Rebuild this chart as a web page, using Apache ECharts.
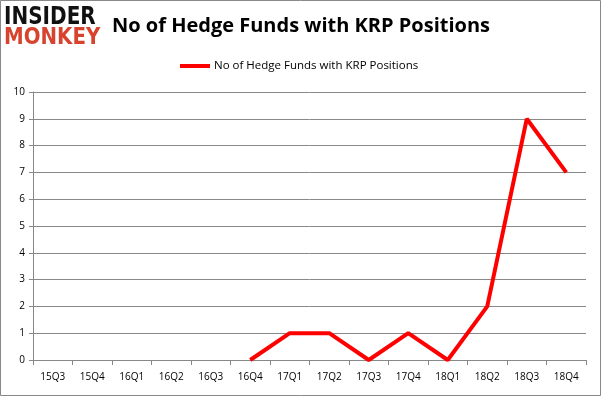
<!DOCTYPE html>
<html><head><meta charset="utf-8">
<script src="https://cdn.jsdelivr.net/npm/echarts@6/dist/echarts.min.js"></script>
<style>html,body{margin:0;padding:0;background:#fff}#c{width:601px;height:396px}</style>
</head><body><div id="c"></div>
<script>
const categories = ['15Q3','15Q4','16Q1','16Q2','16Q3','16Q4','17Q1','17Q2','17Q3','17Q4','18Q1','18Q2','18Q3','18Q4'];
const seriesName = 'No of Hedge Funds with KRP Positions';
const values = [null,null,null,null,null,0,1,1,0,1,0,2,9,7];
const yTicks = {min:0, max:10, interval:1};

const chart = echarts.init(document.getElementById('c'), null, {renderer:'canvas'});
chart.setOption({
  backgroundColor:'#fff',
  animation:false,
  title:{text:'No of Hedge Funds with KRP Positions', left:107, top:11,
    textStyle:{fontFamily:'Open Sans', fontWeight:'bold', fontSize:20, color:'#000'}},
  legend:{data:[seriesName], top:55, left:175, itemWidth:30, itemHeight:4, itemGap:4,
    icon:'rect',
    textStyle:{fontFamily:'Open Sans', fontSize:11.5, color:'#000', padding:[0,0,0,-1]}},
  graphic:[
    {type:'rect', shape:{x:0.5,y:0.5,width:600,height:395}, style:{fill:'none', stroke:'#888', lineWidth:1}, silent:true},
    {type:'text', x:4, y:5, scaleX:0.8, style:{text:'INSIDER', fontFamily:'DejaVu Sans', fontWeight:'bold', fontSize:25, fill:'#111'}},
    {type:'text', x:4, y:27, scaleX:0.86, style:{text:'MONKEY', fontFamily:'DejaVu Sans', fontWeight:'bold', fontSize:23, fill:'#d8432e'}}
  ],
  grid:{left:33, right:15, top:92, bottom:36},
  xAxis:{type:'category', data:categories, boundaryGap:true,
    axisLine:{lineStyle:{color:'#888'}},
    axisTick:{show:true, alignWithLabel:false, length:5, lineStyle:{color:'#888'}},
    axisLabel:{fontFamily:'Open Sans', fontSize:10, color:'#000', margin:12}},
  yAxis:{type:'value', min:yTicks.min, max:yTicks.max, interval:yTicks.interval,
    axisLine:{show:true, lineStyle:{color:'#888'}},
    axisTick:{show:true, length:4, lineStyle:{color:'#888'}},
    splitLine:{lineStyle:{color:'#888'}},
    axisLabel:{fontFamily:'Open Sans', fontSize:10, color:'#000', margin:8}},
  series:[{name:seriesName, type:'line', data:values, showSymbol:false, symbol:'none',
    lineStyle:{color:'#ff0000', width:4}, itemStyle:{color:'#ff0000'}, connectNulls:false}]
});
</script></body></html>
